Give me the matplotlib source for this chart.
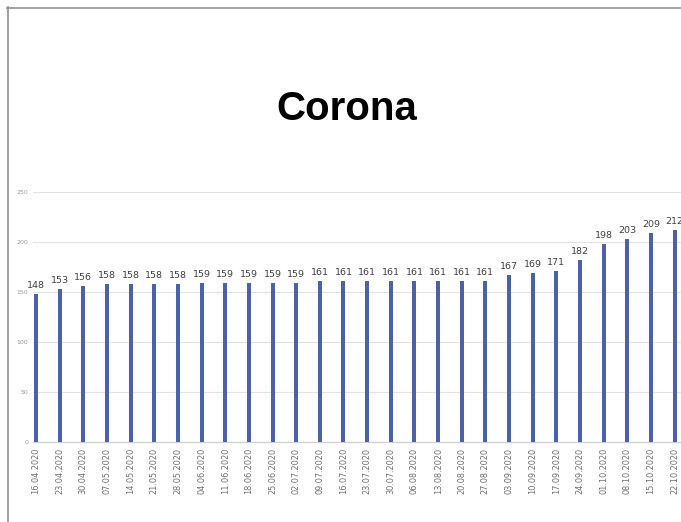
import matplotlib
matplotlib.use('Agg')
from matplotlib import pyplot as plt
from matplotlib.lines import Line2D

dates = ['16.04.2020', '23.04.2020', '30.04.2020', '07.05.2020', '14.05.2020',
         '21.05.2020', '28.05.2020', '04.06.2020', '11.06.2020', '18.06.2020',
         '25.06.2020', '02.07.2020', '09.07.2020', '16.07.2020', '23.07.2020',
         '30.07.2020', '06.08.2020', '13.08.2020', '20.08.2020', '27.08.2020',
         '03.09.2020', '10.09.2020', '17.09.2020', '24.09.2020', '01.10.2020',
         '08.10.2020', '15.10.2020', '22.10.2020']
values = [148, 153, 156, 158, 158, 158, 158, 159, 159, 159, 159, 159,
          161, 161, 161, 161, 161, 161, 161, 161,
          167, 169, 171, 182, 198, 203, 209, 212]
yticks = [0, 50, 100, 150, 200, 250]

fig = plt.figure(figsize=(6.81, 5.22), dpi=100)
ax = fig.add_axes([33/681, 0.1538, 648/681, 0.479])

x = list(range(len(values)))
ax.bar(x, values, width=0.17, color='#4b62a8', zorder=3)
for xi, v in zip(x, values):
    ax.annotate(str(v), (xi, v), xytext=(0, 3), textcoords='offset points',
                ha='center', va='bottom', fontsize=6.8, color='#404040',
                annotation_clip=False)

ax.set_xlim(-0.127, 27.27)
ax.set_ylim(0, 250)
ax.set_yticks(yticks)
ax.set_xticks(x)
ax.set_xticklabels(dates, rotation=90, fontsize=5.9, color='#707070')
ax.tick_params(axis='x', length=0, pad=4.5)
ax.tick_params(axis='y', length=0, pad=3.5, labelsize=4.5, labelcolor='#999999')
ax.grid(axis='y', color='#e2e2e2', linewidth=0.8, zorder=0)
for s in ['top', 'right', 'left']:
    ax.spines[s].set_visible(False)
ax.spines['bottom'].set_color('#d0d0d0')
ax.spines['bottom'].set_linewidth(0.9)

fig.text(347/681, (522-120)/522, 'Corona', family='Liberation Sans',
         fontweight='bold', fontsize=29, ha='center', va='baseline')

# frame of the chart area (cropped on right/bottom)
fig.add_artist(Line2D([7/681, 1], [1 - 7.5/522, 1 - 7.5/522], color='#909090', lw=1.2))
fig.add_artist(Line2D([7.5/681, 7.5/681], [0, 1 - 7/522], color='#909090', lw=1.2))

plt.savefig('out.png', dpi=100)
